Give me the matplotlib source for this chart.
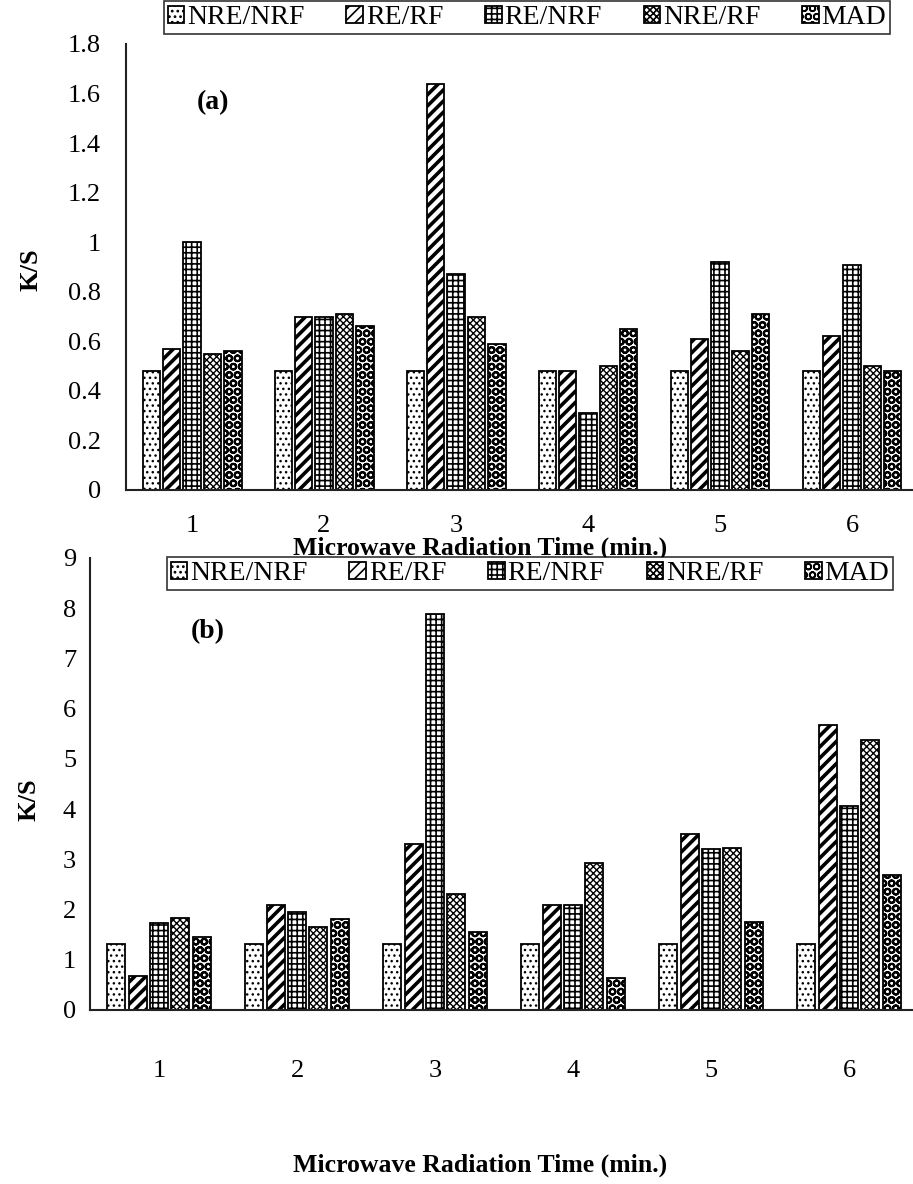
import matplotlib.pyplot as plt
import numpy as np

plt.rcParams['font.family'] = ['Liberation Serif', 'DejaVu Serif']
plt.rcParams['hatch.linewidth'] = 1.2

# 微波辐射时间（min）
times = [1, 2, 3, 4, 5, 6]
series = ["NRE/NRF", "RE/RF", "RE/NRF", "NRE/RF", "MAD"]

# (a) K/S 值
a_nre_nrf = [0.48, 0.48, 0.48, 0.48, 0.48, 0.48]
a_re_rf = [0.57, 0.70, 1.64, 0.48, 0.61, 0.62]
a_re_nrf = [1.00, 0.70, 0.87, 0.31, 0.92, 0.91]
a_nre_rf = [0.55, 0.71, 0.70, 0.50, 0.56, 0.50]
a_mad = [0.56, 0.66, 0.59, 0.65, 0.71, 0.48]

# (b) K/S 值
b_nre_nrf = [1.31, 1.31, 1.31, 1.31, 1.31, 1.31]
b_re_rf = [0.67, 2.09, 3.30, 2.09, 3.51, 5.67]
b_re_nrf = [1.73, 1.95, 7.88, 2.09, 3.20, 4.07]
b_nre_rf = [1.84, 1.66, 2.30, 2.93, 3.23, 5.38]
b_mad = [1.46, 1.81, 1.56, 0.63, 1.76, 2.68]

hatches = ['...', '///', '+++', 'xxxxx', 'OO']
hatch_lw = [1.0, 2.6, 1.2, 1.0, 1.5]


def draw_panel(ax, data, ymax, ystep, tag, tag_xy, leg_anchor, ypad, xpad,
               ylab_xy, xlab_xy):
    x = np.arange(1, len(times) + 1)
    width = 0.13
    pitch = 0.155
    for i, (name, vals) in enumerate(zip(series, data)):
        bars = ax.bar(x + (i - 2) * pitch, vals, width, label=name,
                      facecolor='white', edgecolor='black', linewidth=1.3,
                      hatch=hatches[i])
        for b in bars:
            if hasattr(b, 'set_hatch_linewidth'):
                b.set_hatch_linewidth(hatch_lw[i])

    ax.set_xlim(0.5, 6.5)
    ax.set_ylim(0, ymax)
    ax.set_xticks(x)
    ax.set_xticklabels([str(t) for t in times])
    ax.set_yticks(np.arange(0, ymax + ystep / 2, ystep))
    ax.yaxis.set_major_formatter(plt.FormatStrFormatter('%g'))
    ax.tick_params(axis='y', length=0, labelsize=19, pad=ypad)
    ax.tick_params(axis='x', length=0, labelsize=19, pad=xpad)

    for s in ['top', 'right']:
        ax.spines[s].set_visible(False)
    for s in ['left', 'bottom']:
        ax.spines[s].set_linewidth(1.5)
        ax.spines[s].set_color('#222222')

    ax.set_ylabel('K/S', fontsize=19, fontweight='bold')
    ax.yaxis.set_label_coords(*ylab_xy)
    ax.set_xlabel('Microwave Radiation Time (min.)', fontsize=18.5,
                  fontweight='bold')
    ax.xaxis.set_label_coords(*xlab_xy)

    ax.text(tag_xy[0], tag_xy[1], tag, transform=fig.transFigure,
            fontsize=20, fontweight='bold', ha='center', va='center')

    leg = ax.legend(ncol=5, loc='upper center', bbox_to_anchor=leg_anchor,
                    bbox_transform=fig.transFigure, fontsize=20,
                    frameon=True, fancybox=False, edgecolor='black',
                    handlelength=0.6, handleheight=0.6, handletextpad=0.1,
                    columnspacing=1.5, borderpad=0.15, borderaxespad=0)
    leg.get_frame().set_linewidth(1.2)


fig = plt.figure(figsize=(9.13, 11.84), dpi=100)

ax_a = fig.add_axes([126 / 913, 1 - 490 / 1184, 792 / 913, 446 / 1184])
draw_panel(ax_a, [a_nre_nrf, a_re_rf, a_re_nrf, a_nre_rf, a_mad],
           1.8, 0.2, '(a)', (213 / 913, 1 - 103 / 1184),
           (527 / 913, 1 - 1 / 1184), ypad=18, xpad=18,
           ylab_xy=(-0.106, 0.493), xlab_xy=(0.447, -0.105))

ax_b = fig.add_axes([90 / 913, 1 - 1010 / 1184, 828 / 913, 452 / 1184])
draw_panel(ax_b, [b_nre_nrf, b_re_rf, b_re_nrf, b_nre_rf, b_mad],
           9, 1, '(b)', (208 / 913, 1 - 632 / 1184),
           (530 / 913, 1 - 557 / 1184), ypad=10, xpad=36,
           ylab_xy=(-0.060, 0.465), xlab_xy=(0.471, -0.318))

fig.savefig('out.png', dpi=100)
